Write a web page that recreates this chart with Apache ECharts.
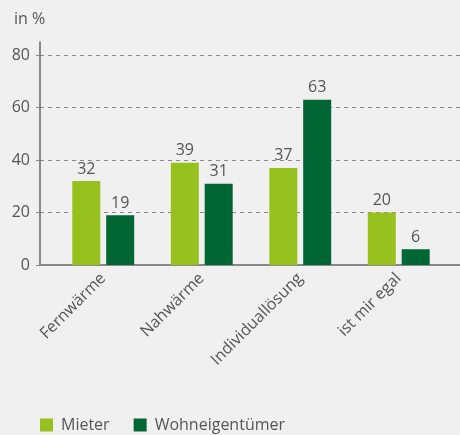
<!DOCTYPE html>
<html>
<head>
<meta charset="utf-8">
<script src="https://cdn.jsdelivr.net/npm/echarts@6/dist/echarts.min.js"></script>
<style>
  html, body { margin: 0; padding: 0; background: #f0f0f0; }
  #chart { width: 460px; height: 435px; }
</style>
</head>
<body>
<div id="chart"></div>
<script>
  // Kategorien und Werte (in %)
  var categories = ['Fernwärme', 'Nahwärme', 'Individuallösung', 'ist mir egal'];
  var mieter = [32, 39, 37, 20];
  var eigentuemer = [19, 31, 63, 6];

  var font = 'Open Sans';
  var textColor = '#555';

  var myChart = echarts.init(document.getElementById('chart'));

  var option = {
    backgroundColor: '#f0f0f0',
    textStyle: { fontFamily: font },
    title: {
      text: 'in %',
      left: 9,
      top: 6,
      textStyle: { fontFamily: font, fontSize: 16, fontWeight: 'normal', color: textColor }
    },
    legend: {
      left: 40,
      top: 417,
      padding: 0,
      itemWidth: 13,
      itemHeight: 13,
      itemGap: 24,
      icon: 'rect',
      textStyle: { fontFamily: font, fontSize: 16, color: textColor, padding: [0, 0, 0, 3] },
      data: ['Mieter', 'Wohneigentümer']
    },
    grid: [
      // achsenlinien
      { left: 40, right: 0, top: 42, bottom: 170 },
      // hilfslinien + y-beschriftung
      { left: 40, right: 0, top: 55, bottom: 170 },
      // balken
      { left: 54, right: 12, top: 55, bottom: 170 }
    ],
    xAxis: [
      {
        gridIndex: 0,
        type: 'category',
        data: categories,
        axisLine: { lineStyle: { color: '#888', width: 2 } },
        axisTick: { show: false },
        axisLabel: { show: false }
      },
      {
        gridIndex: 1,
        type: 'category',
        data: categories,
        show: false
      },
      {
        gridIndex: 2,
        type: 'category',
        data: categories,
        axisLine: { show: false },
        axisTick: { show: false },
        axisLabel: {
          rotate: 45,
          margin: 11,
          fontFamily: font,
          fontSize: 16,
          color: textColor
        }
      }
    ],
    yAxis: [
      {
        gridIndex: 0,
        type: 'value',
        min: 0,
        max: 85,
        axisLine: { show: true, lineStyle: { color: '#666', width: 1.5 } },
        axisTick: { show: false },
        axisLabel: { show: false },
        splitLine: { show: false }
      },
      {
        gridIndex: 1,
        type: 'value',
        min: 0,
        max: 80,
        interval: 20,
        axisLine: { show: false },
        axisTick: { show: true, length: 4, lineStyle: { color: '#888' } },
        axisLabel: { margin: 10, fontFamily: font, fontSize: 16, color: textColor },
        splitLine: {
          show: true,
          showMinLine: false,
          lineStyle: { color: '#888', type: [4, 4], width: 1 }
        }
      },
      {
        gridIndex: 2,
        type: 'value',
        min: 0,
        max: 80,
        show: false,
        splitLine: { show: false }
      }
    ],
    series: [
      {
        name: 'Mieter',
        type: 'bar',
        xAxisIndex: 2,
        yAxisIndex: 2,
        data: mieter,
        barWidth: 28,
        barGap: '21%',
        itemStyle: { color: '#97c11f' },
        label: { show: true, position: 'top', distance: 4, fontFamily: font, fontSize: 16, color: textColor }
      },
      {
        name: 'Wohneigentümer',
        type: 'bar',
        xAxisIndex: 2,
        yAxisIndex: 2,
        data: eigentuemer,
        barWidth: 28,
        barGap: '21%',
        itemStyle: { color: '#006633' },
        label: { show: true, position: 'top', distance: 4, fontFamily: font, fontSize: 16, color: textColor }
      }
    ]
  };

  option && myChart.setOption(option);
</script>
</body>
</html>
